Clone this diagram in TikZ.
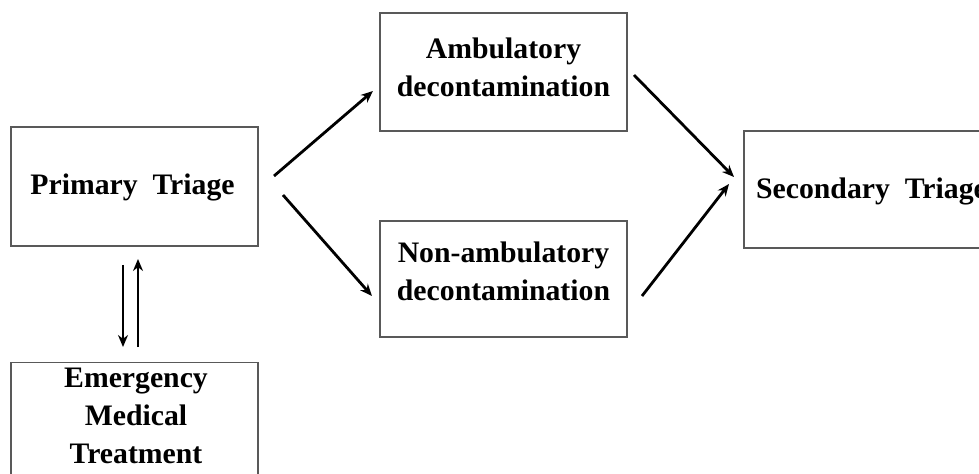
\documentclass[tikz,border=0pt]{standalone}
\usepackage{fontspec}
\setmainfont{Liberation Serif}
\usetikzlibrary{arrows.meta}
\begin{document}
\begin{tikzpicture}[x=0.75pt,y=-0.75pt,
  box/.style={draw=black!65, line width=0.8pt, fill=white, inner sep=0pt, minimum width=185.25pt},
  lbl/.style={font=\fontsize{22.3}{28.5}\selectfont\bfseries, align=center, inner sep=0pt},
  arr/.style={line width=2.1pt, -{Stealth[length=9pt,width=7.5pt]}}]
\useasboundingbox (0,0) rectangle (979,474);
\clip (0,0) rectangle (979,474);
% boxes
\node[box, minimum height=89.25pt] (pt) at (134.5,186.5) {};
\node[lbl] (ptl) at (132.5,187) {Primary\ \ Triage};
\node[box, minimum height=120pt, anchor=north] (emt) at (134.5,362) {};
\node[lbl] (emtl) at (136,416) {Emergency\\Medical\\Treatment};
\node[box, minimum height=88.5pt] (amb) at (503.5,72) {};
\node[lbl] (ambl) at (503.5,67) {Ambulatory\\decontamination};
\node[box, minimum height=87pt] (nam) at (503.5,279) {};
\node[lbl] (naml) at (503.5,271.5) {Non-ambulatory\\decontamination};
\node[box, minimum height=87.75pt] (st) at (867.5,189.5) {};
\node[lbl] (stl) at (871.5,191) {Secondary\ \ Triage};
% connector ends
\coordinate (a1s) at (274,176); \coordinate (a1e) at (373,91);
\coordinate (a2s) at (283,195); \coordinate (a2e) at (372,296);
\coordinate (a3s) at (634,75);  \coordinate (a3e) at (734,177);
\coordinate (a4s) at (642,296); \coordinate (a4e) at (729,184);
\coordinate (dns) at (123,265); \coordinate (dne) at (123,347);
\coordinate (ups) at (138,347); \coordinate (upe) at (138,259);
\draw[arr] (a1s) -- (a1e);
\draw[arr] (a2s) -- (a2e);
\draw[arr] (a3s) -- (a3e);
\draw[arr] (a4s) -- (a4e);
\draw[arr] (dns) -- (dne);
\draw[arr] (ups) -- (upe);
\end{tikzpicture}
\end{document}
